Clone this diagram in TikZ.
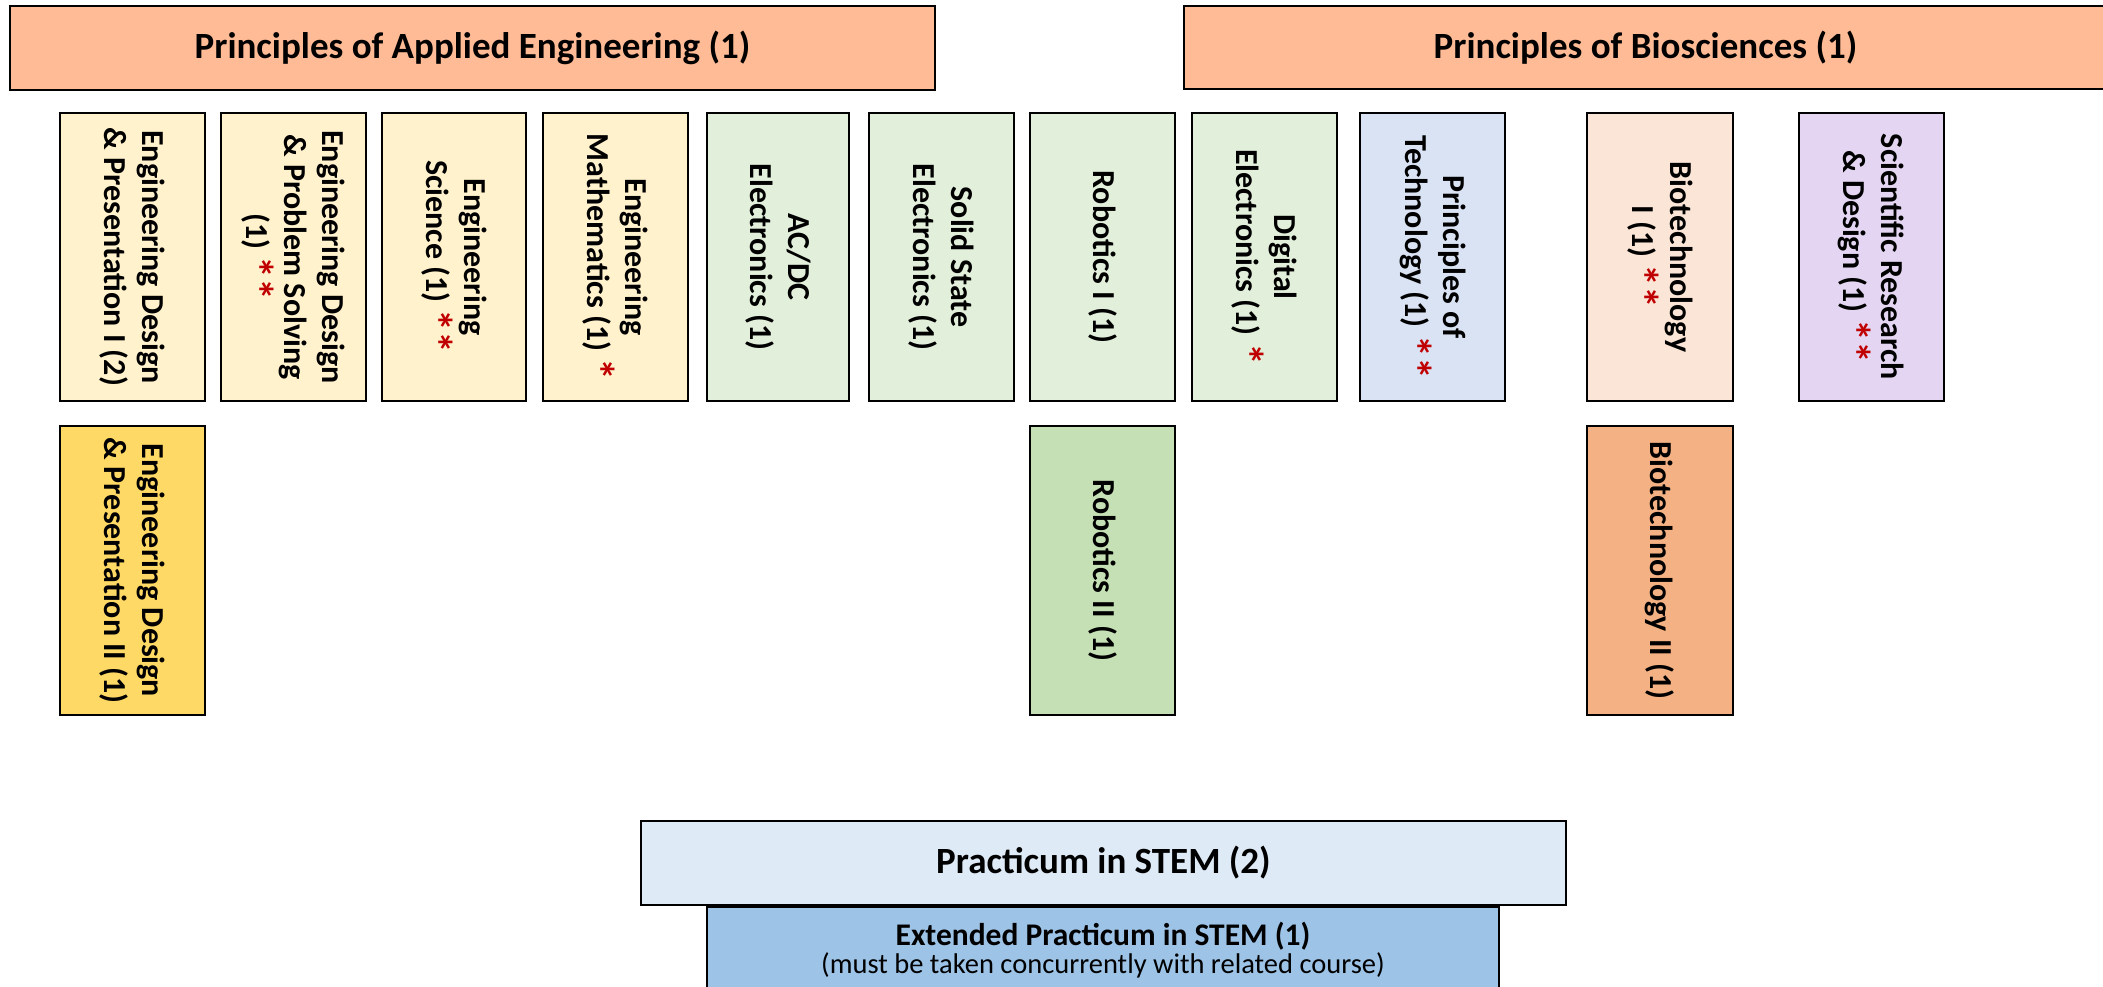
\documentclass[tikz,border=0pt]{standalone}
\usepackage{fontspec}
\setmainfont{Carlito}
\definecolor{hdrfill}{HTML}{FFBB96}
\definecolor{yelfill}{HTML}{FFF2CC}
\definecolor{grnfill}{HTML}{E2EFDA}
\definecolor{bluefill}{HTML}{DAE3F3}
\definecolor{peachfill}{HTML}{FBE5D6}
\definecolor{purpfill}{HTML}{E4D6F2}
\definecolor{goldfill}{HTML}{FFD966}
\definecolor{dgrnfill}{HTML}{C5E0B4}
\definecolor{orgfill}{HTML}{F4B183}
\definecolor{pracfill}{HTML}{DEEBF7}
\definecolor{extfill}{HTML}{9DC3E6}
\definecolor{starred}{HTML}{C00000}
\newcommand{\redast}[1]{\textcolor{starred}{\fontsize{44}{38}\selectfont\raisebox{-0.1em}{#1}}}
\tikzset{
  boxbase/.style={draw=black, line width=2.5pt, inner sep=0pt, align=center},
  header/.style={boxbase, fill=hdrfill, minimum width=925pt, minimum height=84pt,
    font=\fontsize{37}{44}\selectfont\bfseries},
  course/.style={boxbase, rotate=-90, minimum width=288pt, minimum height=145pt,
    font=\fontsize{32}{38}\selectfont\bfseries},
  course2/.style={course, minimum width=289pt},
}
\begin{document}
\begin{tikzpicture}[x=1pt,y=-1pt]
\useasboundingbox (0,0) rectangle (2103,987);
\clip (0,0) rectangle (2103,987);

% headers
\node[header] (pae) at (472.5,48) {Principles of Applied Engineering (1)};
\node[header, minimum width=923pt, minimum height=83pt] (pbio) at (1645.5,47.5) {Principles of Biosciences (1)};

% row 1
\node[course, fill=yelfill] (edp1) at (132.5,257) {Engineering Design\\\& Presentation I (2)};
\node[course, fill=yelfill] (edps) at (293.5,257) {Engineering Design\\\& Problem Solving\\(1) \redast{**}};
\node[course, fill=yelfill, minimum height=144pt] (esci) at (454,257) {Engineering\\Science (1) \redast{**}};
\node[course, fill=yelfill] (emath) at (615.5,257) {Engineering\\Mathematics (1) \redast{*}};
\node[course, fill=grnfill, minimum height=142pt] (acdc) at (778,257) {AC/DC\\Electronics (1)};
\node[course, fill=grnfill] (solid) at (941.5,257) {Solid State\\Electronics (1)};
\node[course, fill=grnfill] (rob1) at (1102.5,257) {Robotics I (1)};
\node[course, fill=grnfill] (digi) at (1264.5,257) {Digital\\Electronics (1) \redast{*}};
\node[course, fill=bluefill] (ptech) at (1432.5,257) {Principles of\\Technology (1) \redast{**}};
\node[course, fill=peachfill, minimum height=146pt] (bio1) at (1660,257) {Biotechnology\\I (1) \redast{**}};
\node[course, fill=purpfill] (srd) at (1871.5,257) {Scientific Research\\\& Design (1) \redast{**}};

% row 2
\node[course2, fill=goldfill] (edp2) at (132.5,570.5) {Engineering Design\\\& Presentation II (1)};
\node[course2, fill=dgrnfill] (rob2) at (1102.5,570.5) {Robotics II (1)};
\node[course2, fill=orgfill, minimum height=146pt] (bio2) at (1660,570.5) {Biotechnology II (1)};

% practicum
\node[header, fill=pracfill] (prac) at (1103.5,863) {Practicum in STEM (2)};
\node[boxbase, fill=extfill, minimum width=792pt, minimum height=86pt] (ext) at (1103,950)
  {{\fontsize{31.5}{31}\selectfont\bfseries Extended Practicum in STEM (1)}\\[1pt]
   {\fontsize{28.5}{31}\selectfont (must be taken concurrently with related course)}};
\end{tikzpicture}
\end{document}
